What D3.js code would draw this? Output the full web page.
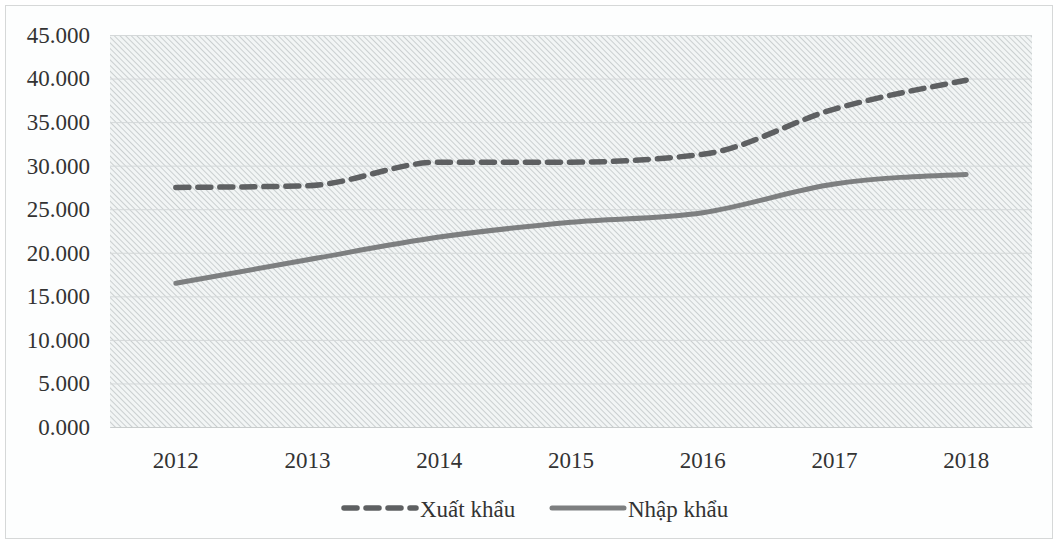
<!DOCTYPE html>
<html><head><meta charset="utf-8">
<script src="https://cdn.jsdelivr.net/npm/d3@7"></script>
<style>body{margin:0;background:#fff;} svg{display:block;}</style>
</head><body>
<svg id="c" width="1059" height="544"></svg>
<script>
const years = ["2012","2013","2014","2015","2016","2017","2018"];
const xuatKhau = [27.5, 27.7, 30.4, 30.4, 31.3, 36.5, 39.8];
const nhapKhau = [16.5, 19.2, 21.8, 23.5, 24.6, 27.9, 29.0];
const yTicks = [0,5,10,15,20,25,30,35,40,45];
const seriesNames = ["Xuất khẩu","Nhập khẩu"];

const svg = d3.select("#c");
const m = {left:110, right:1032, top:35, bottom:427};
const FONT = "Liberation Serif, Times New Roman, serif";
const FS = 23;

// outer frame
svg.append("rect").attr("x",5.5).attr("y",5.5).attr("width",1047).attr("height",533)
  .attr("fill","#fdfefe").attr("stroke","#d6d8d8").attr("stroke-width",1);

const defs = svg.append("defs");
const pat = defs.append("pattern").attr("id","hatch").attr("patternUnits","userSpaceOnUse")
  .attr("width",4).attr("height",4).attr("patternTransform","rotate(45)");
pat.append("rect").attr("width",4).attr("height",4).attr("fill","#f2f5f5");
pat.append("line").attr("x1",0).attr("y1",0).attr("x2",4).attr("y2",0)
  .attr("stroke","#c6cbcc").attr("stroke-width",1.8);

const x = d3.scaleBand().domain(years).range([m.left, m.right]);
const y = d3.scaleLinear().domain([0,45]).range([m.bottom, m.top]);

svg.append("rect").attr("x",m.left).attr("y",m.top)
  .attr("width",m.right-m.left).attr("height",m.bottom-m.top).attr("fill","url(#hatch)");

// gridlines
svg.append("g").selectAll("line").data(yTicks).join("line")
  .attr("x1",m.left).attr("x2",m.right)
  .attr("y1",d=>y(d)+0.5).attr("y2",d=>y(d)+0.5)
  .attr("stroke","#d4d8d9").attr("stroke-width",1);

// y axis
const yAxis = d3.axisLeft(y).tickValues(yTicks).tickSize(0).tickPadding(20)
  .tickFormat(d=>d3.format(".3f")(d));
const gy = svg.append("g").attr("transform",`translate(${m.left},0)`).call(yAxis);
gy.select(".domain").remove();
gy.selectAll("text").attr("font-family",FONT).attr("font-size",FS).attr("fill","#333");

// x axis
const xAxis = d3.axisBottom(x).tickSize(0).tickPadding(25);
const gx = svg.append("g").attr("transform",`translate(0,${m.bottom})`).call(xAxis);
gx.select(".domain").attr("stroke","#c8cccc");
gx.selectAll("text").attr("font-family",FONT).attr("font-size",FS).attr("fill","#333");

const line = d3.line().x((d,i)=>x(years[i])+x.bandwidth()/2).y(d=>y(d)).curve(d3.curveMonotoneX);

svg.append("path").datum(nhapKhau).attr("d",line).attr("fill","none")
  .attr("stroke","#7d7f80").attr("stroke-width",5).attr("stroke-linecap","round");
svg.append("path").datum(xuatKhau).attr("d",line).attr("fill","none")
  .attr("stroke","#5e6062").attr("stroke-width",5.5).attr("stroke-dasharray","13,9")
  .attr("stroke-linecap","round");

// legend
const ly = 508;
const lg = svg.append("g");
lg.append("line").attr("x1",344).attr("x2",416).attr("y1",ly).attr("y2",ly)
  .attr("stroke","#5e6062").attr("stroke-width",5.5).attr("stroke-dasharray","13,9").attr("stroke-linecap","round");
lg.append("text").attr("x",420).attr("y",ly+9).text(seriesNames[0])
  .attr("font-family",FONT).attr("font-size",FS).attr("fill","#333");
lg.append("line").attr("x1",552).attr("x2",624).attr("y1",ly).attr("y2",ly)
  .attr("stroke","#7d7f80").attr("stroke-width",5).attr("stroke-linecap","round");
lg.append("text").attr("x",628).attr("y",ly+9).text(seriesNames[1])
  .attr("font-family",FONT).attr("font-size",FS).attr("fill","#333");
</script>
</body></html>
